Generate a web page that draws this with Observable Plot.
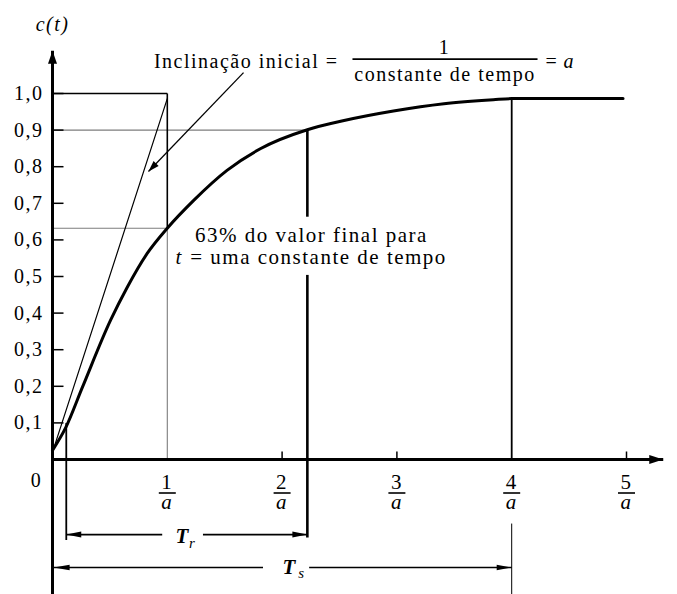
<!DOCTYPE html>
<html>
<head>
<meta charset="utf-8">
<script src="https://cdn.jsdelivr.net/npm/d3@7"></script>
<script src="https://cdn.jsdelivr.net/npm/@observablehq/plot@0.6"></script>
<style>
  body { margin: 0; background: #fff; }
  #chart svg { display: block; background: #fff; }
  #chart svg text { font-family: 'Liberation Serif', 'DejaVu Serif', 'Times New Roman', Times, serif !important; letter-spacing: 1.5px; }
</style>
</head>
<body>
<div id="chart"></div>
<script>
// Step response c(t) of a first-order system; time measured in units of 1/a
const timeValues     = [0, 0.115, 0.26, 0.505, 0.65, 0.825, 1.0, 1.23, 1.52, 1.81, 2.22, 2.54, 2.97, 3.41, 3.84, 4.0, 4.97];
const responseValues = [0.025, 0.087, 0.197, 0.38, 0.47, 0.563, 0.632, 0.708, 0.79, 0.849, 0.901, 0.926, 0.952, 0.972, 0.983, 0.986, 0.986];

// Initial-slope line (tangent at t = 0)
const tangentTimes  = [0, 1];
const tangentValues = [0.02, 0.986];

// Characteristic instants and levels
const timeConstant = 1;      // t = 1/a
const riseStart = 0.12;      // 10 %
const riseEnd = 2.22;        // 90 %  -> Tr = 2.2/a
const settleTime = 4;        // Ts = 4/a
const level10 = 0.1;
const level63 = 0.632;
const level90 = 0.9;
const levelFinal = 0.986;

// Axis ticks
const yTicks = [0.1, 0.2, 0.3, 0.4, 0.5, 0.6, 0.7, 0.8, 0.9, 1.0];
const yTickLabels = ["0,1", "0,2", "0,3", "0,4", "0,5", "0,6", "0,7", "0,8", "0,9", "1,0"];
const xTicks = [1, 2, 3, 4, 5];
const xTickNumerators = ["1", "2", "3", "4", "5"];

// Frame
const W = 677, H = 594;
const margin = {left: 52, right: 51, top: 93, bottom: 135};
const kx = (W - margin.left - margin.right) / 5;   // pixels per 1/a
const ky = (H - margin.top - margin.bottom) / 1;   // pixels per unit of c

// Where the axes and dimension lines sit (data units)
const axisTip = {t: 5.32, c: 1.117, cBottom: -0.37};
const trLevel = -0.205;
const tsLevel = -0.295;

const curve = timeValues.map((t, i) => ({t, c: responseValues[i]}));
const tangent = tangentTimes.map((t, i) => ({t, c: tangentValues[i]}));

// Leader from the slope label to the tangent line
const leader = {t1: 1.664, c1: 1.057, t2: 0.836, c2: 0.787};

const FONT = "'Liberation Serif', 'DejaVu Serif', serif";

// Filled arrowhead, tip at the point, pointing along (ux, uy) in screen space
function headShape(len, half, ux, uy) {
  const n = Math.hypot(ux, uy); ux /= n; uy /= n;
  return {draw(ctx) {
    ctx.moveTo(0, 0);
    ctx.lineTo(-len * ux - half * uy, -len * uy + half * ux);
    ctx.lineTo(-len * ux + half * uy, -len * uy - half * ux);
    ctx.closePath();
  }};
}
const head = (pts, len, half, ux, uy) =>
  Plot.dot(pts, {x: "t", y: "c", symbol: headShape(len, half, ux, uy), fill: "black", stroke: "none"});

const rightTick = {draw(ctx) { ctx.moveTo(0, 0); ctx.lineTo(11, 0); }};
const upTick = {draw(ctx) { ctx.moveTo(0, 0); ctx.lineTo(0, -8); }};
const fractionBar = {draw(ctx) { ctx.rect(-8.5, -0.8, 17, 1.6); }};

const seg = (t1, c1, t2, c2) => ({t1, c1, t2, c2});
const link = (segs, o) => Plot.link(segs, {x1: "t1", y1: "c1", x2: "t2", y2: "c2", stroke: "black", ...o});

const grayGuides = [
  seg(0, level90, riseEnd, level90),
  seg(0, level63, timeConstant, level63),
  seg(timeConstant, level63, timeConstant, 0)
];
const boxGuides = [
  seg(0, 1, timeConstant, 1),
  seg(timeConstant, 1, timeConstant, level63)
];

const xTickMarks = xTicks.filter(t => t !== timeConstant && t !== settleTime);
const text = (t, c, s, o) =>
  Plot.text([s], {x: () => t, y: () => c, text: d => d, lineAnchor: "bottom", fontSize: 20, fontFamily: FONT, ...o});

const chart = Plot.plot({
  width: W,
  height: H,
  marginLeft: margin.left,
  marginRight: margin.right,
  marginTop: margin.top,
  marginBottom: margin.bottom,
  x: {domain: [0, 5], axis: null},
  y: {domain: [0, 1], axis: null},
  style: {fontFamily: FONT, background: "white", color: "black"},
  marks: [
    // guides
    link(grayGuides, {stroke: "#7d7d7d", strokeWidth: 1.1}),
    link(boxGuides, {strokeWidth: 1.6}),
    Plot.line(tangent, {x: "t", y: "c", stroke: "black", strokeWidth: 1.2}),

    // rise-time and settling-time construction
    link([seg(riseStart, level10, riseStart, -0.22)], {strokeWidth: 1.8}),
    link([seg(riseEnd, level90, riseEnd, -0.213)], {strokeWidth: 2.6}),
    link([seg(settleTime, levelFinal, settleTime, 0)], {strokeWidth: 1.8}),
    link([seg(settleTime, -0.175, settleTime, axisTip.cBottom)], {strokeWidth: 1}),
    link([seg(riseStart, trLevel, riseEnd, trLevel)], {strokeWidth: 1.8}),
    link([seg(0, tsLevel, settleTime, tsLevel)], {strokeWidth: 1.5}),

    // response curve
    Plot.line(curve, {x: "t", y: "c", stroke: "black", strokeWidth: 3, curve: "monotone-x"}),

    // axes
    link([seg(0, 0, axisTip.t, 0)], {strokeWidth: 2.8}),
    link([seg(0, axisTip.cBottom, 0, axisTip.c)], {strokeWidth: 3}),
    head([{t: axisTip.t, c: 0}], 14, 4.5, 1, 0),
    head([{t: 0, c: axisTip.c}], 13, 4.5, 0, -1),

    // ticks
    Plot.dot(yTicks, {x: () => 0, y: d => d, symbol: rightTick, stroke: "black", strokeWidth: 1.5, fill: "none"}),
    Plot.dot(xTickMarks, {x: d => d, y: () => 0, symbol: upTick, stroke: "black", strokeWidth: 1.5, fill: "none"}),

    // y tick labels
    Plot.text(yTicks, {x: () => 0, y: d => d, text: (d, i) => yTickLabels[i], dx: -9, textAnchor: "end", fontSize: 20, fontFamily: FONT}),
    Plot.text(["0"], {x: () => 0, y: () => 0, text: d => d, dx: -16, dy: 21, fontSize: 20, fontFamily: FONT}),
    // x tick labels as fractions n / a
    Plot.text(xTicks, {x: d => d, y: () => 0, text: (d, i) => xTickNumerators[i], dy: 29, lineAnchor: "bottom", fontSize: 21, fontFamily: FONT}),
    Plot.dot(xTicks, {x: d => d, y: () => 0, dy: 33.5, symbol: fractionBar, fill: "black", stroke: "none"}),
    Plot.text(xTicks, {x: d => d, y: () => 0, text: () => "a", dy: 49, lineAnchor: "bottom", fontSize: 21, fontStyle: "italic", fontFamily: FONT}),

    // axis title
    text(0, 1.172, "c(t)", {fontStyle: "italic"}),

    // dimension arrowheads
    head([{t: riseStart, c: trLevel}], 15, 3, -1, 0),
    head([{t: riseEnd, c: trLevel}], 15, 3, 1, 0),
    head([{t: 0.01, c: tsLevel}], 16, 2.8, -1, 0),
    head([{t: settleTime, c: tsLevel}], 15, 2.8, 1, 0),

    // clear space behind labels
    Plot.rect([0], {x1: () => riseEnd - 0.12, x2: () => riseEnd + 0.12, y1: () => 0.503, y2: () => 0.662, fill: "white"}),
    Plot.rect([0], {x1: () => 0.96, x2: () => 1.315, y1: () => -0.18, y2: () => -0.23, fill: "white"}),
    Plot.rect([0], {x1: () => 1.838, x2: () => 2.24, y1: () => -0.27, y2: () => -0.32, fill: "white"}),

    // rise / settling labels
    text(1.071, -0.2295, "T", {textAnchor: "start", fontStyle: "italic", fontWeight: "bold", fontSize: 21}),
    text(1.19, -0.243, "r", {textAnchor: "start", fontStyle: "italic", fontSize: 15}),
    text(2.003, -0.3115, "T", {textAnchor: "start", fontStyle: "italic", fontWeight: "bold", fontSize: 21}),
    text(2.14, -0.325, "s", {textAnchor: "start", fontStyle: "italic", fontSize: 15}),

    // initial slope annotation
    link([leader], {strokeWidth: 1.3}),
    head([{t: leader.t2, c: leader.c2}], 11, 3.5, (leader.t2 - leader.t1) * kx, -(leader.c2 - leader.c1) * ky),
    text(2.491, 1.071, "Inclinação inicial =", {textAnchor: "end"}),
    text(3.415, 1.109, "1"),
    link([seg(2.613, 1.094, 4.225, 1.094)], {strokeWidth: 1.8}),
    text(3.419, 1.033, "constante de tempo"),
    text(4.294, 1.071, "=", {textAnchor: "start"}),
    text(4.451, 1.071, "a", {textAnchor: "start", fontStyle: "italic"}),

    // 63 % annotation
    text(2.256, 0.593, "63% do valor final para", {fontSize: 21}),
    text(1.071, 0.5355, "t", {textAnchor: "start", fontStyle: "italic", fontSize: 21}),
    text(1.2, 0.5355, "= uma constante de tempo", {textAnchor: "start", fontSize: 21})
  ]
});

document.getElementById("chart").append(chart);
</script>
</body>
</html>
